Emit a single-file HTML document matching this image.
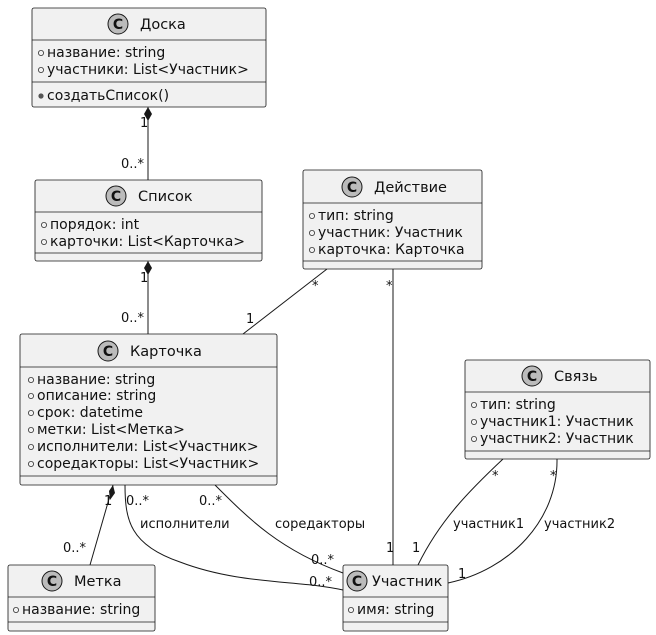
<!DOCTYPE html>
<html><head><meta charset="utf-8"><style>
html,body{margin:0;padding:0;background:#fff;}
svg{display:block;}
text{font-family:"DejaVu Sans","Liberation Sans",sans-serif;fill:#111;}
.h{font-size:14.5px;}
.a{font-size:14px;}
.l{font-size:13px;}
.box{fill:#f1f1f1;stroke:#181818;stroke-width:0.8;}
.sep{stroke:#181818;stroke-width:0.8;}
.e{stroke:#181818;stroke-width:1;fill:none;}
.b{fill:none;stroke:#333;stroke-width:0.8;}
</style></head><body>
<svg width="656" height="635" viewBox="0 0 656 635">
<defs>
<g id="C"><circle r="10" fill="#bbbbbb" stroke="#181818" stroke-width="1"/><text x="0" y="5" text-anchor="middle" style="font-size:14px;font-weight:bold">C</text></g>
<circle id="o" r="2.6" class="b"/>
</defs>

<!-- Edges -->
<line class="e" x1="148" y1="107" x2="148" y2="180"/>
<polygon points="148,107 152,114 148,121 144,114" fill="#181818"/>
<text class="l" x="140" y="127">1</text><text class="l" x="121" y="168">0..*</text>

<line class="e" x1="148" y1="261" x2="148" y2="334"/>
<polygon points="148,261 152,268 148,275 144,268" fill="#181818"/>
<text class="l" x="140" y="282">1</text><text class="l" x="121" y="322">0..*</text>

<line class="e" x1="327" y1="269" x2="243" y2="334"/>
<text class="l" x="312" y="290">*</text><text class="l" x="246" y="323">1</text>

<line class="e" x1="393" y1="269" x2="393" y2="565"/>
<text class="l" x="386" y="290">*</text><text class="l" x="386" y="552">1</text>

<line class="e" x1="113" y1="485" x2="90" y2="565"/>
<polygon points="113,485 115,493 110,500 109,491" fill="#181818"/>
<text class="l" x="104" y="505">1</text><text class="l" x="63" y="552">0..*</text>

<path class="e" d="M125,485 C125,520 130,545 180,562 C240,585 300,580 343,590"/>
<text class="l" x="126" y="505">0..*</text>
<text class="l" x="140" y="528">исполнители</text>
<text class="l" x="309" y="586">0..*</text>

<path class="e" d="M215,485 C250,520 280,550 343,573"/>
<text class="l" x="199" y="505">0..*</text>
<text class="l" x="275" y="528">соредакторы</text>
<text class="l" x="311" y="564">0..*</text>

<path class="e" d="M503,459 C470,490 440,520 418,565"/>
<text class="l" x="492" y="480">*</text>
<text class="l" x="453" y="528">участник1</text>
<text class="l" x="412" y="552">1</text>

<path class="e" d="M557,459 C558,520 510,570 448,583"/>
<text class="l" x="550" y="480">*</text>
<text class="l" x="544" y="528">участник2</text>
<text class="l" x="458" y="578">1</text>

<!-- Доска -->
<rect class="box" x="32" y="8" width="234" height="99" rx="2"/>
<use href="#C" x="118" y="24"/>
<text class="h" x="140" y="29">Доска</text>
<line class="sep" x1="32" y1="40" x2="266" y2="40"/>
<use href="#o" x="41" y="53"/><text class="a" x="47" y="57">название: string</text>
<use href="#o" x="41" y="70"/><text class="a" x="47" y="74">участники: List&lt;Участник&gt;</text>
<line class="sep" x1="32" y1="82" x2="266" y2="82"/>
<circle cx="41" cy="96" r="2.6" fill="#555"/><text class="a" x="47" y="100">создатьСписок()</text>

<!-- Список -->
<rect class="box" x="35" y="180" width="227" height="81" rx="2"/>
<use href="#C" x="116" y="196"/>
<text class="h" x="138" y="201">Список</text>
<line class="sep" x1="35" y1="212" x2="262" y2="212"/>
<use href="#o" x="44" y="225"/><text class="a" x="50" y="229">порядок: int</text>
<use href="#o" x="44" y="242"/><text class="a" x="50" y="246">карточки: List&lt;Карточка&gt;</text>
<line class="sep" x1="35" y1="253" x2="262" y2="253"/>

<!-- Действие -->
<rect class="box" x="303" y="170" width="179" height="99" rx="2"/>
<use href="#C" x="352" y="187"/>
<text class="h" x="374" y="192">Действие</text>
<line class="sep" x1="303" y1="203" x2="482" y2="203"/>
<use href="#o" x="312" y="216"/><text class="a" x="318" y="220">тип: string</text>
<use href="#o" x="312" y="233"/><text class="a" x="318" y="237">участник: Участник</text>
<use href="#o" x="312" y="250"/><text class="a" x="318" y="254">карточка: Карточка</text>
<line class="sep" x1="303" y1="261" x2="482" y2="261"/>

<!-- Карточка -->
<rect class="box" x="20" y="334" width="257" height="151" rx="2"/>
<use href="#C" x="108" y="351"/>
<text class="h" x="130" y="356">Карточка</text>
<line class="sep" x1="20" y1="367" x2="277" y2="367"/>
<use href="#o" x="31" y="380"/><text class="a" x="37" y="384">название: string</text>
<use href="#o" x="31" y="396"/><text class="a" x="37" y="400">описание: string</text>
<use href="#o" x="31" y="413"/><text class="a" x="37" y="417">срок: datetime</text>
<use href="#o" x="31" y="430"/><text class="a" x="37" y="434">метки: List&lt;Метка&gt;</text>
<use href="#o" x="31" y="447"/><text class="a" x="37" y="451">исполнители: List&lt;Участник&gt;</text>
<use href="#o" x="31" y="464"/><text class="a" x="37" y="468">соредакторы: List&lt;Участник&gt;</text>
<line class="sep" x1="20" y1="476" x2="277" y2="476"/>

<!-- Связь -->
<rect class="box" x="465" y="360" width="185" height="99" rx="2"/>
<use href="#C" x="532" y="376"/>
<text class="h" x="554" y="381">Связь</text>
<line class="sep" x1="465" y1="392" x2="650" y2="392"/>
<use href="#o" x="474" y="405"/><text class="a" x="480" y="409">тип: string</text>
<use href="#o" x="474" y="422"/><text class="a" x="480" y="426">участник1: Участник</text>
<use href="#o" x="474" y="439"/><text class="a" x="480" y="443">участник2: Участник</text>
<line class="sep" x1="465" y1="451" x2="650" y2="451"/>

<!-- Метка -->
<rect class="box" x="8" y="565" width="147" height="66" rx="2"/>
<use href="#C" x="52" y="581"/>
<text class="h" x="74" y="586">Метка</text>
<line class="sep" x1="8" y1="597" x2="155" y2="597"/>
<use href="#o" x="16" y="610"/><text class="a" x="22" y="614">название: string</text>
<line class="sep" x1="8" y1="622" x2="155" y2="622"/>

<!-- Участник -->
<rect class="box" x="343" y="565" width="105" height="66" rx="2"/>
<use href="#C" x="357" y="581"/>
<text class="h" x="372" y="586">Участник</text>
<line class="sep" x1="343" y1="597" x2="448" y2="597"/>
<use href="#o" x="351" y="610"/><text class="a" x="357" y="614">имя: string</text>
<line class="sep" x1="343" y1="622" x2="448" y2="622"/>
</svg>
</body></html>
